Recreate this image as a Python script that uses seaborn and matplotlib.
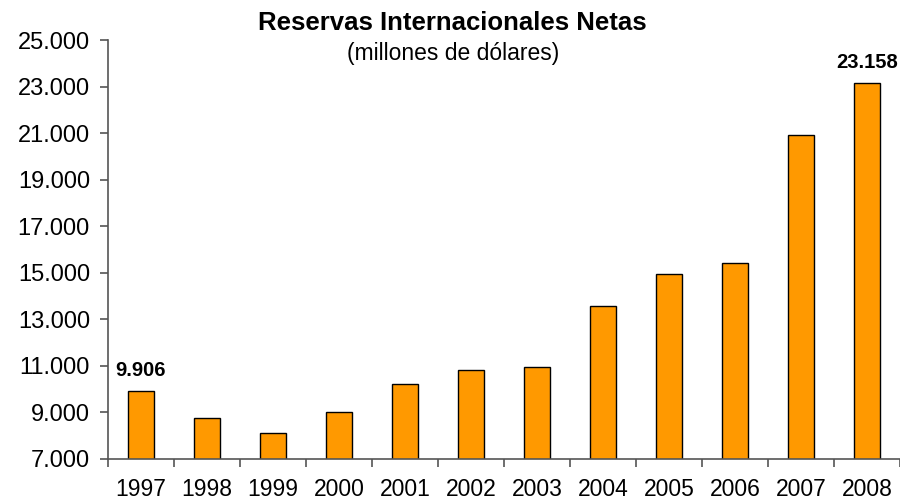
import matplotlib
matplotlib.use("Agg")
import matplotlib.pyplot as plt
import matplotlib.ticker as mticker
import numpy as np
import pandas as pd
import seaborn as sns

YEARS = ['1997', '1998', '1999', '2000', '2001', '2002', '2003', '2004', '2005', '2006', '2007', '2008']
RESERVES = [9906, 8750, 8120, 9005, 10220, 10825, 10950, 13560, 14940, 15450, 20950, 23158]
LABELLED = {'1997': '9.906', '2008': '23.158'}
Y_TICKS = list(range(7000, 25001, 2000))

sns.set_style('white')
plt.rcParams['font.family'] = ['Liberation Sans', 'DejaVu Sans']
plt.rcParams['text.color'] = 'black'
plt.rcParams['xtick.color'] = 'black'
plt.rcParams['ytick.color'] = 'black'

df = pd.DataFrame({'year': YEARS, 'reserves': RESERVES})

fig = plt.figure(figsize=(9, 5.03), dpi=100)
ax = fig.add_axes([0.12, 0.0875, 0.88, 0.832])

sns.barplot(data=df, x='year', y='reserves', color='#FF9900', edgecolor='black',
            linewidth=1, width=0.4, saturation=1, ax=ax)

ax.set_ylim(7000, 25000)
ax.set_xlim(-0.5, len(YEARS) - 0.5)
ax.set_yticks(Y_TICKS)
ax.yaxis.set_major_formatter(mticker.FuncFormatter(lambda v, p: f'{int(v):,}'.replace(',', '.')))
ax.set_xlabel('')
ax.set_ylabel('')

# tick marks between the categories, labels centred under the bars
ax.set_xticks(np.arange(-0.5, len(YEARS), 1.0), minor=True)
ax.tick_params(axis='x', which='major', bottom=True, length=0, pad=14, labelsize=16.5)
ax.tick_params(axis='x', which='minor', bottom=True, length=6, width=1.2,
               color='#555555', direction='out')
ax.tick_params(axis='y', left=True, length=6, width=1.2, color='#555555', direction='out',
               labelsize=17, pad=7)

for side in ['top', 'right']:
    ax.spines[side].set_visible(False)
for side in ['left', 'bottom']:
    ax.spines[side].set_color('#555555')
    ax.spines[side].set_linewidth(1.2)

for i, (year, val) in enumerate(zip(YEARS, RESERVES)):
    if year in LABELLED:
        ax.annotate(LABELLED[year], (i, val), xytext=(0, 8), textcoords='offset points',
                    ha='center', va='bottom', fontsize=14.5, fontweight='bold')

fig.text(0.503, 0.955, 'Reservas Internacionales Netas', ha='center', va='center',
         fontsize=18.5, fontweight='bold')
fig.text(0.503, 0.893, '(millones de dólares)', ha='center', va='center', fontsize=16.5)

fig.savefig('out.png', dpi=100)
